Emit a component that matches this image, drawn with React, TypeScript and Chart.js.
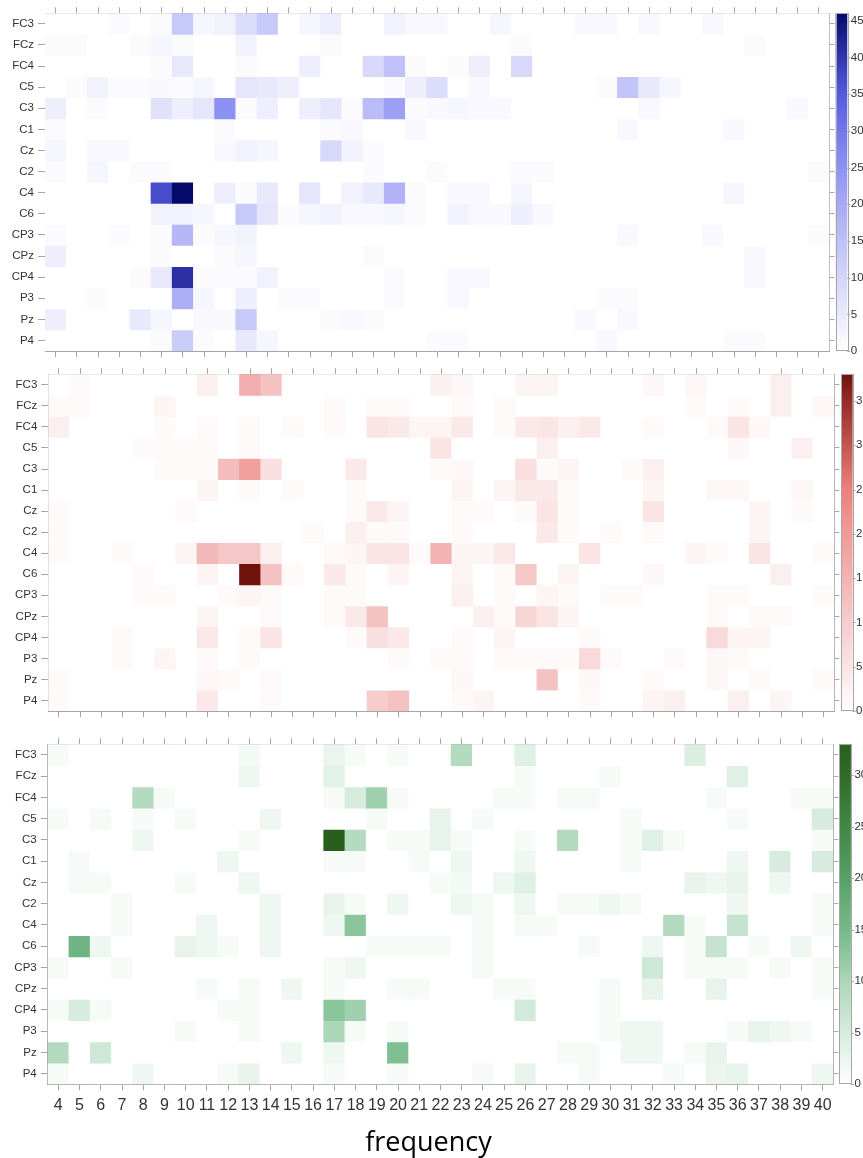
import React, { useEffect, useRef } from "react";
import { Chart, registerables } from "chart.js";

Chart.register(...registerables);

// ---------------- data ----------------
const frequencies = ["4","5","6","7","8","9","10","11","12","13","14","15","16","17","18","19","20","21","22","23","24","25","26","27","28","29","30","31","32","33","34","35","36","37","38","39","40"];
const channels = ["FC3","FCz","FC4","C5","C3","C1","Cz","C2","C4","C6","CP3","CPz","CP4","P3","Pz","P4"];

// panel 1 (blue), rows follow channels, columns follow frequencies
const blueValues = [
  [0,0,0,1,0, 1,13,2,3,8, 13,0,2,4,0, 0,3,1.5,1.5,0, 0,2,0,0,0, 1.5,1.5,0,1.5,0, 0,1.5,0,0,0, 0,0],
  [1,1,0,0,1, 2,1,0,0,3, 0,0,0,1,0, 0,0,0,0,0, 0,0,1,0,0, 0,0,0,0,0, 0,0,0,1,0, 0,0],
  [0,0,0,0,0, 1,5,0,0,1, 0,0,4,0,0, 9,15,1,0,1, 4,0,9,0,0, 0,0,0,0,0, 0,0,0,0,0, 0,0],
  [0,1,3,1,1, 1.5,1,2,0,6, 5,4,0,0,0, 0,1,4,8,0, 1.5,0,0,0,0, 0,1,14,5,2, 0,0,0,0,0, 0,0],
  [4,0,1,0,0, 7,4,6,25,1, 4,0,4,6,1, 16,22,1,1.5,2, 1.5,1.5,0,0,0, 0,0,0,1.5,0, 0,0,0,0,0, 1.5,0],
  [1,0,0,0,0, 0,0,0,1,0, 0,0,0,1,1.5, 0,0,1.5,0,0, 0,0,0,0,0, 0,0,1.5,0,0, 0,0,1.5,0,0, 0,0],
  [2,0,1.5,1.5,0, 0,0,0,1.5,3, 2,0,0,9,3, 1,0,0,0,0, 0,0,0,0,0, 0,0,0,0,0, 0,0,0,0,0, 0,0],
  [1,0,2,0,1, 1,0,0,0,0, 0,0,0,0,0, 1,0,0,1,0, 0,0,1,1,0, 0,0,0,0,0, 0,0,0,0,0, 0,1],
  [0,0,0,0,0, 37,46,0,4,1, 5,0,6,0,3, 5,18,1,0,1.5, 1.5,0,2,0,0, 0,0,0,0,0, 0,0,2,0,0, 0,0],
  [0,0,0,0,0, 3,3,2,0,13, 6,1,2,3,1.5, 1.5,2,1,0,3, 1.5,1.5,4,1.5,0, 0,0,0,0,0, 0,0,0,0,0, 0,0],
  [1,0,0,1,0, 1,17,1,2,3, 0,0,0,0,0, 0,0,0,0,0, 0,0,0,0,0, 0,0,1.5,0,0, 0,1.5,0,0,0, 0,1],
  [4,0,0,0,0, 1,0,0,1,2, 0,0,0,0,0, 1,0,0,0,0, 0,0,0,0,0, 0,0,0,0,0, 0,0,0,1.5,0, 0,0],
  [0,0,0,0,1, 5,41,1,1,1, 3,0,0,0,0, 0,1,0,0,1.5, 1.5,0,0,0,0, 0,0,0,0,0, 0,0,0,1.5,0, 0,0],
  [0,0,1,0,0, 0,19,2,0,4, 0,1,1,0,0, 0,1,0,0,1.5, 0,0,0,0,0, 0,1,1,0,0, 0,0,0,0,0, 0,0],
  [4,0,0,0,5, 2,0,1.5,1.5,13, 0,0,0,1,1.5, 1,0,0,0,0, 0,0,0,0,0, 1.5,0,1.5,0,0, 0,0,0,0,0, 0,0],
  [0,0,0,0,0, 1,12,1,0,5, 2,0,0,0,0, 0,0,0,1,1, 0,0,0,0,0, 0,1.5,0,0,0, 0,0,1,1,0, 0,0],
];

// panel 2 (red)
const redValues = [
  [0,1,0,0,0, 0,0,3,0,16, 12,0,0,0,0, 0,0,0,2.5,1.5, 0,0,2,2,0, 0,0,0,1.5,0, 1.5,0,0,0,3, 0,0],
  [1,1,0,0,0, 2,0,0,0,0, 0,0,0,1,0, 1,1,0,0,1, 0,1,0,0,0, 0,0,0,0,0, 1,0,1,0,3, 0,1.5],
  [3,0,0,0,0, 1,0,1,0,1, 0,1,0,1,0, 5,4,2,2,4, 0,1,4,5,3, 4,0,0,1,0, 0,1,5,1.5,0, 0,0],
  [0,0,0,0,1, 1,1,1,0,1, 0,0,0,0,0, 0,0,0,5,0, 0,0,0,3,0, 0,0,0,0,0, 0,0,1.5,0,0, 3,0],
  [0,0,0,0,0, 1,1,1,13,19, 6,0,0,0,4, 0,0,0,1,1.5, 0,0,6,1,2, 0,0,1,3,0, 0,0,0,0,0, 0,0],
  [0,0,0,0,0, 0,0,2,0,1, 0,1,0,0,1, 0,0,0,0,2, 0,2,4,4,1, 0,0,0,2,0, 0,1.5,1.5,0,0, 1.5,0],
  [1,0,0,0,0, 0,1,0,0,0, 0,0,0,0,1, 4,2,0,0,1, 1,0,1,5,1, 0,0,0,5,0, 0,0,0,2,0, 1,0],
  [1,0,0,0,0, 0,0,0,0,0, 0,0,1,0,3, 1,1,0,0,1, 0,0,0,4,1, 0,1,0,1,0, 0,0,0,2,0, 0,0],
  [1,0,0,1,0, 0,2,14,11,11, 3,0,0,1,2, 5,5,1,15,2, 2,4,0,0,0, 5,0,0,0,0, 2,1,0,5,0, 0,1],
  [0,0,0,0,1, 0,0,2,0,38, 12,1,0,4,1, 0,2,0,0,2, 0,1,11,0,2, 0,0,0,1.5,0, 0,0,0,0,3, 0,0],
  [0,0,0,0,1, 1,0,0,1,2, 1,0,0,1,1, 0,0,0,0,3, 0,1,0,2,1, 0,1,1,0,0, 0,1,1,0,0, 0,1],
  [0,0,0,0,0, 0,0,2,0,0, 1,0,0,1,4, 12,0,0,0,0, 3,1,8,5,2, 0,0,0,0,0, 0,1,0,1,1, 0,0],
  [0,0,0,1,0, 0,0,4,0,1, 5,0,0,0,1, 6,4,0,0,1, 0,2,0,0,0, 1,0,0,0,0, 0,7,2,2,0, 0,0],
  [0,0,0,1,0, 2,0,1,0,1, 0,0,0,0,0, 0,1,0,1,1, 0,1,1,1,1, 7,1,0,0,1, 0,1.5,1,0,0, 0,0],
  [1,0,0,0,0, 0,0,1.5,1,0, 1,0,0,0,0, 0,0,0,0,1.5, 0,0,0,12,0, 1.5,0,0,1,0, 0,1.5,0,1,0, 0,1],
  [1,0,0,0,0, 0,0,4,0,0, 1,0,0,0,0, 10,12,0,0,1, 2,0,0,0,0, 1,0,0,2,3, 0,0,3,0,2, 0,0],
];

// panel 3 (green)
const greenValues = [
  [1,0,0,0,0, 0,0,0,0,1.5, 0,0,0,2.5,1, 0,1,0,0,9, 0,0,4,0,0, 0,0,0,0,0, 4.5,0,0,0,0, 0,0],
  [0,0,0,0,0, 0,0,0,0,2, 0,0,0,3.5,0, 0,0,0,0,0, 0,0,1,0,0, 0,1,0,0,0, 0,0,4,0,0, 0,0],
  [0,0,0,0,9, 1,0,0,0,0, 0,0,0,1,5, 11,1,0,0,0, 0,1,1,0,1, 1,0,0,0,0, 0,1,0,0,0, 1,1],
  [1,0,1,0,1, 0,1,0,0,0, 2,0,0,0,0, 1,0,0,3,0, 1,0,0,0,0, 0,0,1,0,0, 0,0,1,0,0, 0,5],
  [0,0,0,0,2, 0,0,0,0,1, 0,0,0,33,9, 0,1,1,3,1, 0,0,1,0,9, 0,0,1,4,1, 0,0,0,0,0, 0,1],
  [0,1,0,0,0, 0,0,0,2,0, 0,0,0,1,1, 0,0,1,0,2, 0,0,2,0,0, 0,0,1,0,0, 0,0,2,0,5, 0,5],
  [0,1,1,0,0, 0,1,0,0,2, 0,0,0,0,0, 0,0,0,1,1.5, 0,2,4,0,0, 0,0,0,0,0, 3,2,3,0,2, 0,0],
  [0,0,0,1,0, 0,0,0,0,0, 2,0,0,3,1, 0,2,0,0,2, 1,0,2,0,1, 1,2,1,0,0, 0,0,2,0,0, 0,1],
  [0,0,0,1,0, 0,0,2,0,0, 2,0,0,2,13, 0,0,0,0,0, 1,0,1,1,0, 0,0,0,0,9, 1,0,7,0,0, 0,1],
  [0,16,2,0,0, 0,3,2,1,0, 2,0,0,0,0, 1,1,1,1,0, 1,0,0,0,0, 1,0,0,2,0, 1,7,0,1,0, 2,0],
  [1,0,0,1,0, 0,0,0,0,0, 0,0,0,1,2, 0,0,0,0,0, 1,0,0,0,0, 0,0,0,6,0, 1,1,1,0,1, 0,1],
  [0,0,0,0,0, 0,0,1,0,1, 0,2,0,1,0, 0,1,1,0,0, 0,1,1,0,0, 0,1,0,3,0, 0,3,0,0,0, 0,1],
  [1,5,1,0,0, 0,0,0,1,1, 0,0,0,13,11, 0,0,0,0,0, 0,0,5.5,0,0, 0,1,0,0,0, 0,0,0,0,0, 0,0],
  [0,0,0,0,0, 0,1,0,0,1, 0,0,0,10,1, 0,1,0,0,0, 0,0,0,0,0, 0,1,2,2,0, 0,0,1,3,2, 1,0],
  [9,0,6,0,0, 0,0,0,0,0, 0,2,0,2,0, 0,14,0,0,0, 0,0,0,0,1, 1,0,2,2,0, 1,3,0,0,0, 0,0],
  [1,0,0,0,2, 0,0,0,1,3, 0,0,0,1,0, 0,1,0,0,0, 1,0,3,0,0, 1,0,0,0,1, 0,2.5,3,0,0, 0,2],
];

const blueTicks = [0, 5, 10, 15, 20, 25, 30, 35, 40, 45];
const redTicks = [0, 5, 10, 15, 20, 25, 30, 35];
const greenTicks = [0, 5, 10, 15, 20, 25, 30];
const blueMax = 46;
const redMax = 38;
const greenMax = 33;

// ---------------- styling ----------------
type RGB = [number, number, number];
type Stop = [number, RGB];

const blueStops: Stop[] = [
  [0, [255, 255, 255]], [0.11, [233, 233, 252]], [0.22, [211, 212, 250]], [0.33, [190, 192, 248]],
  [0.43, [168, 170, 245]], [0.54, [142, 146, 242]], [0.65, [115, 120, 238]], [0.76, [85, 90, 220]],
  [0.87, [50, 55, 175]], [1, [5, 10, 105]],
];
const redStops: Stop[] = [
  [0, [255, 255, 255]], [0.13, [250, 228, 228]], [0.26, [246, 205, 205]], [0.39, [243, 180, 180]],
  [0.53, [240, 155, 152]], [0.66, [236, 128, 124]], [0.79, [195, 85, 80]], [0.92, [150, 45, 40]],
  [1, [112, 18, 12]],
];
const greenStops: Stop[] = [
  [0, [255, 255, 255]], [0.15, [215, 236, 222]], [0.3, [172, 215, 185]], [0.45, [118, 186, 138]],
  [0.61, [85, 160, 100]], [0.76, [65, 135, 70]], [0.91, [48, 108, 40]], [1, [40, 95, 28]],
];

function colorAt(stops: Stop[], t: number): string {
  const tt = Math.max(0, Math.min(1, t));
  for (let i = 1; i < stops.length; i++) {
    const [t1, c1] = stops[i];
    const [t0, c0] = stops[i - 1];
    if (tt <= t1) {
      const f = (tt - t0) / (t1 - t0 || 1);
      const c = c0.map((v, k) => Math.round(v + (c1[k] - v) * f));
      return `rgb(${c[0]},${c[1]},${c[2]})`;
    }
  }
  const c = stops[stops.length - 1][1];
  return `rgb(${c[0]},${c[1]},${c[2]})`;
}

const FONT = "'Liberation Sans', Arial, Helvetica, sans-serif";
const AXIS_COLOR = "#a6a6a6";
const TICK_COLOR = "#a6a6a6";
const TEXT_COLOR = "#333333";

interface PanelCfg {
  id: string;
  values: number[][];
  max: number;
  ticks: number[];
  stops: Stop[];
  top: number;
  height: number;
  plotLeft: number;
  plotRight: number;
  topAxis: number;
  bottomAxis: number;
  cbGap: number;
  showX: boolean;
}

const panels: PanelCfg[] = [
  { id: "blue", values: blueValues, max: blueMax, ticks: blueTicks, stops: blueStops, top: 0, height: 362, plotLeft: 45, plotRight: 829.4, topAxis: 13.3, bottomAxis: 10.3, cbGap: 6.3, showX: false },
  { id: "red", values: redValues, max: redMax, ticks: redTicks, stops: redStops, top: 362, height: 360, plotLeft: 48.3, plotRight: 834.3, topAxis: 12.3, bottomAxis: 8, cbGap: 6.7, showX: false },
  { id: "green", values: greenValues, max: greenMax, ticks: greenTicks, stops: greenStops, top: 722, height: 436, plotLeft: 47.7, plotRight: 833.3, topAxis: 22.3, bottomAxis: 73.7, cbGap: 6, showX: true },
];

const RIGHT_AXIS_W = 6;
const CB_W = 11.6;

function HeatPanel({ cfg }: { cfg: PanelCfg }) {
  const ref = useRef<HTMLCanvasElement | null>(null);

  useEffect(() => {
    if (!ref.current) return;

    const colorbar = {
      id: "colorbar-" + cfg.id,
      afterDraw(chart: any) {
        const { ctx, chartArea } = chart;
        const x0 = chartArea.right + cfg.cbGap;
        const top = chartArea.top;
        const bottom = chartArea.bottom;
        const grad = ctx.createLinearGradient(0, bottom, 0, top);
        cfg.stops.forEach(([t, c]) => grad.addColorStop(t, `rgb(${c[0]},${c[1]},${c[2]})`));
        ctx.save();
        ctx.fillStyle = grad;
        ctx.fillRect(x0, top, CB_W, bottom - top);
        ctx.strokeStyle = AXIS_COLOR;
        ctx.lineWidth = 1;
        ctx.strokeRect(Math.round(x0) + 0.5, Math.round(top) + 0.5, Math.round(CB_W), Math.round(bottom - top) - 1);
        ctx.font = `11.5px ${FONT}`;
        ctx.fillStyle = TEXT_COLOR;
        ctx.textAlign = "left";
        ctx.textBaseline = "middle";
        cfg.ticks.forEach((v) => {
          const y = bottom - (v / cfg.max) * (bottom - top);
          const yy = Math.round(y) + 0.5;
          ctx.beginPath();
          ctx.strokeStyle = TICK_COLOR;
          ctx.moveTo(x0 + CB_W, yy);
          ctx.lineTo(x0 + CB_W + 3, yy);
          ctx.stroke();
          ctx.fillText(String(v), x0 + CB_W + 3.5, y);
        });
        ctx.restore();
      },
    };

    const rowTicks = (scale: any) => {
      scale.ticks = channels.map((_, i) => ({ value: i + 0.5 }));
    };

    const chart = new Chart(ref.current, {
      type: "bar",
      data: {
        labels: frequencies,
        datasets: channels.map((ch, r) => ({
          label: ch,
          data: frequencies.map(() => [r, r + 1]) as any,
          backgroundColor: cfg.values[r].map((v) => colorAt(cfg.stops, v / cfg.max)),
          borderWidth: 0,
          barPercentage: 1,
          categoryPercentage: 1,
          grouped: false,
          xAxisID: "x",
          yAxisID: "y",
        })),
      },
      options: {
        responsive: false,
        animation: false,
        events: [],
        layout: { padding: { left: 0, top: 0, bottom: 0, right: 863 - cfg.plotRight - RIGHT_AXIS_W } },
        plugins: { legend: { display: false }, tooltip: { enabled: false } },
        scales: {
          x: {
            type: "category",
            position: "bottom",
            offset: true,
            grid: { display: true, drawOnChartArea: false, offset: false, tickLength: 6, color: TICK_COLOR },
            border: { display: true, color: AXIS_COLOR },
            ticks: {
              display: cfg.showX,
              autoSkip: false,
              maxRotation: 0,
              minRotation: 0,
              padding: 6,
              color: TEXT_COLOR,
              font: { family: FONT, size: 16 },
            },
            afterFit: (s: any) => { s.height = cfg.bottomAxis; },
          },
          x2: {
            type: "category",
            position: "top",
            offset: true,
            grid: { display: true, drawOnChartArea: false, offset: false, tickLength: 6, color: TICK_COLOR },
            border: { display: true, color: AXIS_COLOR },
            ticks: { display: false, autoSkip: false },
            afterFit: (s: any) => { s.height = cfg.topAxis; },
          },
          y: {
            type: "linear",
            position: "left",
            min: 0,
            max: channels.length,
            reverse: true,
            afterBuildTicks: rowTicks,
            grid: { display: true, drawOnChartArea: false, tickLength: 7, color: TICK_COLOR },
            border: { display: true, color: AXIS_COLOR },
            ticks: {
              autoSkip: false,
              padding: 4,
              color: TEXT_COLOR,
              font: { family: FONT, size: 11.5 },
              callback: (_v: any, i: number) => channels[i],
            },
            afterFit: (s: any) => { s.width = cfg.plotLeft; },
          },
          y2: {
            type: "linear",
            position: "right",
            min: 0,
            max: channels.length,
            reverse: true,
            afterBuildTicks: rowTicks,
            grid: { display: true, drawOnChartArea: false, tickLength: 5, color: TICK_COLOR },
            border: { display: true, color: AXIS_COLOR },
            ticks: { display: false, autoSkip: false },
            afterFit: (s: any) => { s.width = RIGHT_AXIS_W; },
          },
        },
      } as any,
      plugins: [colorbar],
    });

    return () => chart.destroy();
  }, [cfg]);

  return (
    <canvas
      ref={ref}
      width={863}
      height={cfg.height}
      style={{ position: "absolute", left: 0, top: cfg.top, width: 863, height: cfg.height, display: "block" }}
    />
  );
}

export default function App() {
  return (
    <div style={{ position: "absolute", left: 0, top: 0, width: 863, height: 1158, background: "#ffffff", overflow: "hidden" }}>
      {panels.map((p) => (
        <HeatPanel key={p.id} cfg={p} />
      ))}
      <div
        style={{
          position: "absolute",
          left: 0,
          top: 1125,
          width: 857,
          textAlign: "center",
          fontFamily: "'Open Sans', 'Liberation Sans', sans-serif",
          fontSize: 27,
          lineHeight: "32px",
          color: "#000000",
        }}
      >
        frequency
      </div>
    </div>
  );
}
